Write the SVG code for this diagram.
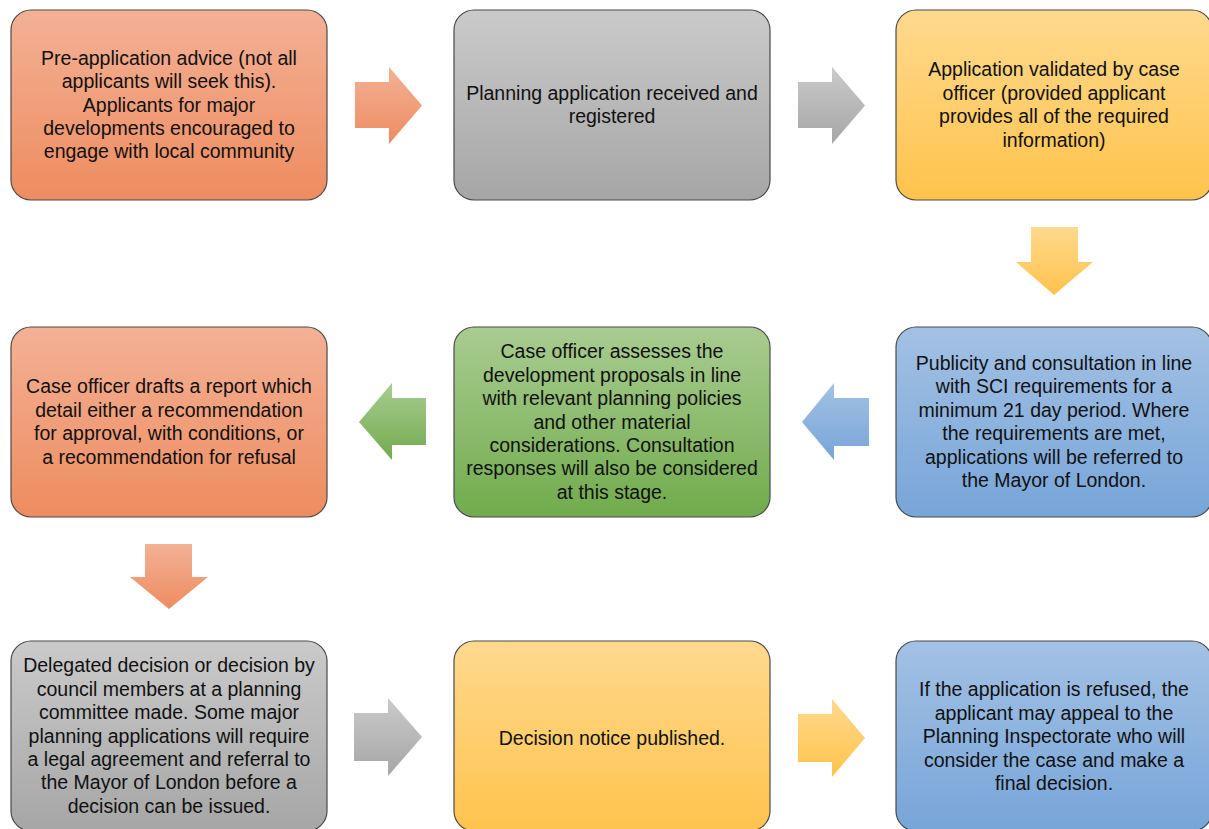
<svg xmlns="http://www.w3.org/2000/svg" width="1209" height="829" viewBox="0 0 1209 829">
<defs>
<linearGradient id="gOrange" x1="0" y1="0" x2="0" y2="1"><stop offset="0" stop-color="#F3B195"/><stop offset="1" stop-color="#EE8C60"/></linearGradient>
<linearGradient id="gGray" x1="0" y1="0" x2="0" y2="1"><stop offset="0" stop-color="#CACACA"/><stop offset="1" stop-color="#A6A6A6"/></linearGradient>
<linearGradient id="gYellow" x1="0" y1="0" x2="0" y2="1"><stop offset="0" stop-color="#FFD98E"/><stop offset="1" stop-color="#FFC34C"/></linearGradient>
<linearGradient id="gBlue" x1="0" y1="0" x2="0" y2="1"><stop offset="0" stop-color="#A3C1E4"/><stop offset="1" stop-color="#77A5D8"/></linearGradient>
<linearGradient id="gGreen" x1="0" y1="0" x2="0" y2="1"><stop offset="0" stop-color="#A9CC91"/><stop offset="1" stop-color="#71AB4D"/></linearGradient>
</defs>
<style>
.box{stroke:#4a4a4a;stroke-width:1.2}
.t{font-family:"Liberation Sans",Arial,sans-serif;font-size:19.5px;fill:#111;text-anchor:middle}
</style>
<rect width="1209" height="829" fill="#fff"/>
<g id="connectors">
<polygon fill="url(#gOrange)" points="355,82 389,82 389,67 422,105.5 389,144 389,128 355,128"/>
<polygon fill="url(#gGray)" points="798,82 832,82 832,67 865,105.5 832,144 832,128 798,128"/>
<polygon fill="url(#gYellow)" points="1031,227 1078,227 1078,262 1093,262 1054,295 1016,262 1031,262"/>
<polygon fill="url(#gBlue)" points="869,398 834,398 834,383 802,422 834,460 834,446 869,446"/>
<polygon fill="url(#gGreen)" points="426,398 392,398 392,383 359,422 392,460 392,445 426,445"/>
<polygon fill="url(#gOrange)" points="145,544 192,544 192,577 208,577 169,609 130,577 145,577"/>
<polygon fill="url(#gGray)" points="354,713 388,713 388,698 422,737 388,776 388,761 354,761"/>
<polygon fill="url(#gYellow)" points="798,714 832,714 832,699 865,738 832,777 832,762 798,762"/>
</g>
<g id="n1"><rect class="box" x="11" y="10" width="316" height="190" rx="20" fill="url(#gOrange)"/>
<text class="t"><tspan x="169" y="65">Pre-application advice (not all</tspan><tspan x="169" y="88">applicants will seek this).</tspan><tspan x="169" y="112">Applicants for major</tspan><tspan x="169" y="135">developments encouraged to</tspan><tspan x="169" y="158">engage with local community</tspan></text></g>
<g id="n2"><rect class="box" x="454" y="10" width="316" height="190" rx="20" fill="url(#gGray)"/>
<text class="t"><tspan x="612" y="100">Planning application received and</tspan><tspan x="612" y="123">registered</tspan></text></g>
<g id="n3"><rect class="box" x="896" y="10" width="316" height="190" rx="20" fill="url(#gYellow)"/>
<text class="t"><tspan x="1054" y="76">Application validated by case</tspan><tspan x="1054" y="100">officer (provided applicant</tspan><tspan x="1054" y="123">provides all of the required</tspan><tspan x="1054" y="147">information)</tspan></text></g>
<g id="n4"><rect class="box" x="896" y="327" width="316" height="190" rx="20" fill="url(#gBlue)"/>
<text class="t"><tspan x="1054" y="370">Publicity and consultation in line</tspan><tspan x="1054" y="393">with SCI requirements for a</tspan><tspan x="1054" y="417">minimum 21 day period. Where</tspan><tspan x="1054" y="440">the requirements are met,</tspan><tspan x="1054" y="464">applications will be referred to</tspan><tspan x="1054" y="487">the Mayor of London.</tspan></text></g>
<g id="n5"><rect class="box" x="454" y="327" width="316" height="190" rx="20" fill="url(#gGreen)"/>
<text class="t"><tspan x="612" y="358">Case officer assesses the</tspan><tspan x="612" y="382">development proposals in line</tspan><tspan x="612" y="405">with relevant planning policies</tspan><tspan x="612" y="429">and other material</tspan><tspan x="612" y="452">considerations. Consultation</tspan><tspan x="612" y="475">responses will also be considered</tspan><tspan x="612" y="499">at this stage.</tspan></text></g>
<g id="n6"><rect class="box" x="11" y="327" width="316" height="190" rx="20" fill="url(#gOrange)"/>
<text class="t"><tspan x="169" y="393">Case officer drafts a report which</tspan><tspan x="169" y="417">detail either a recommendation</tspan><tspan x="169" y="440">for approval, with conditions, or</tspan><tspan x="169" y="464">a recommendation for refusal</tspan></text></g>
<g id="n7"><rect class="box" x="11" y="641" width="316" height="190" rx="20" fill="url(#gGray)"/>
<text class="t"><tspan x="169" y="672">Delegated decision or decision by</tspan><tspan x="169" y="696">council members at a planning</tspan><tspan x="169" y="719">committee made. Some major</tspan><tspan x="169" y="743">planning applications will require</tspan><tspan x="169" y="766">a legal agreement and referral to</tspan><tspan x="169" y="789">the Mayor of London before a</tspan><tspan x="169" y="813">decision can be issued.</tspan></text></g>
<g id="n8"><rect class="box" x="454" y="641" width="316" height="190" rx="20" fill="url(#gYellow)"/>
<text class="t"><tspan x="612" y="745">Decision notice published.</tspan></text></g>
<g id="n9"><rect class="box" x="896" y="641" width="316" height="190" rx="20" fill="url(#gBlue)"/>
<text class="t"><tspan x="1054" y="696">If the application is refused, the</tspan><tspan x="1054" y="720">applicant may appeal to the</tspan><tspan x="1054" y="743">Planning Inspectorate who will</tspan><tspan x="1054" y="767">consider the case and make a</tspan><tspan x="1054" y="790">final decision.</tspan></text></g>
</svg>
